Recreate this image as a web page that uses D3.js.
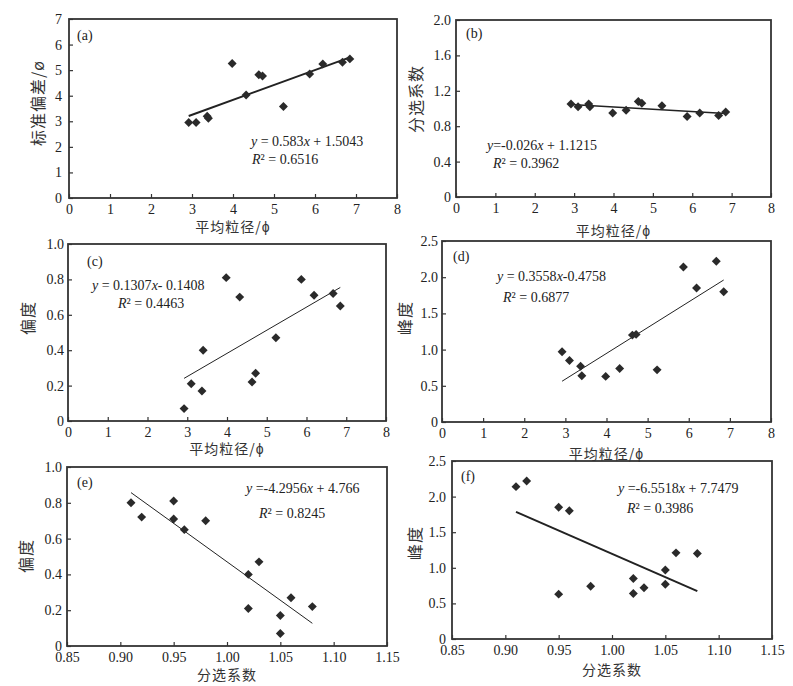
<!DOCTYPE html>
<html>
<head>
<meta charset="utf-8">
<script src="https://cdn.jsdelivr.net/npm/d3@7"></script>
<style>
    body { margin: 0; background: #fff; }
    svg { display: block; }
    .tick text { font-family: "Liberation Serif", "Times New Roman", serif; font-size: 14px; fill: #222; }
    .tick line { stroke: #333; stroke-width: 1.2; }
    .cjk { font-family: "Noto Sans CJK SC", sans-serif; font-size: 14px; fill: #333; }
    .eq { font-family: "Liberation Serif", "Times New Roman", serif; font-size: 14px; fill: #222; }
</style>
</head>
<body>
<svg id="chart" width="793" height="686"></svg>
<script>
// Sample values (13 samples)
let meanSize = [2.92, 3.10, 3.37, 3.40, 3.98, 4.32, 4.63, 4.72, 5.23, 5.87, 6.19, 6.67, 6.85];
let stdDev   = [2.95, 2.95, 3.20, 3.12, 5.26, 4.03, 4.82, 4.77, 3.58, 4.85, 5.24, 5.31, 5.44];
let sorting  = [1.05, 1.02, 1.05, 1.02, 0.95, 0.98, 1.08, 1.06, 1.03, 0.91, 0.95, 0.92, 0.96];
let skewness = [0.07, 0.21, 0.17, 0.40, 0.81, 0.70, 0.22, 0.27, 0.47, 0.80, 0.71, 0.72, 0.65];
let kurtosis = [0.97, 0.85, 0.77, 0.64, 0.63, 0.74, 1.20, 1.21, 0.72, 2.14, 1.85, 2.22, 1.80];

// Fitted lines shown in the figure
let slopes     = [0.583, -0.026, 0.1307, 0.3558, -4.2956, -6.5518];
let intercepts = [1.5043, 1.1215, -0.1408, -0.4758, 4.766, 7.7479];
let eqMid = [" = 0.583", "=-0.026", " = 0.1307", " = 0.3558", " =-4.2956", " =-6.5518"];
let eqEnd = [" + 1.5043", " + 1.1215", "- 0.1408", "-0.4758", " + 4.766", " + 7.7479"];
let rSquared = ["0.6516", "0.3962", "0.4463", "0.6877", "0.8245", "0.3986"];
let panelNames = ["(a)", "(b)", "(c)", "(d)", "(e)", "(f)"];

// Tick values
let sizeTicks = [0, 1, 2, 3, 4, 5, 6, 7, 8];
let sortTicks = [0.85, 0.90, 0.95, 1.00, 1.05, 1.10, 1.15];
let stdTicks = [0, 1, 2, 3, 4, 5, 6, 7];
let sortYTicks = [0, 0.4, 0.8, 1.2, 1.6, 2.0];
let skewTicks = [0, 0.2, 0.4, 0.6, 0.8, 1.0];
let kurtTicks = [0, 0.5, 1.0, 1.5, 2.0, 2.5];

let fmt1 = (d) => (d === 0 ? "0" : d3.format(".1f")(d));
let fmt2 = d3.format(".2f");

// Panel layout (frame box in page pixels)
let panels = [
    { box: [69, 19, 397, 198], xs: meanSize, ys: stdDev, xd: [0, 8], yd: [0, 7],
      xt: sizeTicks, yt: stdTicks, xf: d3.format("d"), yf: d3.format("d"),
      xl: "平均粒径/ϕ", yl: "标准偏差/ø", xlY: 228, ylX: 40, ylY: 103,
      tag: [77, 40], eq: [251, 146], r2: [252, 164], lw: 2, gap: 7 },
    { box: [456, 20, 771, 197], xs: meanSize, ys: sorting, xd: [0, 8], yd: [0, 2],
      xt: sizeTicks, yt: sortYTicks, xf: d3.format("d"), yf: fmt1,
      xl: "平均粒径/ϕ", yl: "分选系数", xlY: 232, ylX: 418, ylY: 99,
      tag: [466, 38], eq: [487, 150], r2: [493, 168], lw: 1.5, gap: 5 },
    { box: [68, 244, 386, 421], xs: meanSize, ys: skewness, xd: [0, 8], yd: [0, 1],
      xt: sizeTicks, yt: skewTicks, xf: d3.format("d"), yf: fmt1,
      xl: "平均粒径/ϕ", yl: "偏度", xlY: 450, ylX: 30, ylY: 318,
      tag: [87, 266], eq: [92, 290], r2: [118, 308], lw: 1, gap: 4 },
    { box: [442, 241, 771, 422], xs: meanSize, ys: kurtosis, xd: [0, 8], yd: [0, 2.5],
      xt: sizeTicks, yt: kurtTicks, xf: d3.format("d"), yf: fmt1,
      xl: "平均粒径/ϕ", yl: "峰度", xlY: 455, ylX: 407, ylY: 318,
      tag: [453, 261], eq: [497, 281], r2: [503, 302], lw: 1, gap: 4 },
    { box: [67, 467, 387, 646], xs: sorting, ys: skewness, xd: [0.85, 1.15], yd: [0, 1],
      xt: sortTicks, yt: skewTicks, xf: fmt2, yf: fmt1,
      xl: "分选系数", yl: "偏度", xlY: 676, ylX: 28, ylY: 556,
      tag: [77, 487], eq: [246, 493], r2: [259, 518], lw: 1, gap: 5 },
    { box: [452, 461, 772, 639], xs: sorting, ys: kurtosis, xd: [0.85, 1.15], yd: [0, 2.5],
      xt: sortTicks, yt: kurtTicks, xf: fmt2, yf: fmt1,
      xl: "分选系数", yl: "峰度", xlY: 671, ylX: 417, ylY: 543,
      tag: [461, 481], eq: [618, 493], r2: [627, 513], lw: 2, gap: 6 },
];

let svg = d3.select("#chart");

panels.forEach(function (p, i) {
    let [x0, y0, x1, y1] = p.box;
    let x = d3.scaleLinear().domain(p.xd).range([x0, x1]);
    let y = d3.scaleLinear().domain(p.yd).range([y1, y0]);
    let g = svg.append("g");

    // Axes with inward ticks
    let xAxis = d3.axisBottom(x).tickValues(p.xt).tickFormat(p.xf)
        .tickSizeInner(-4).tickSizeOuter(0).tickPadding(6);
    let yAxis = d3.axisLeft(y).tickValues(p.yt).tickFormat(p.yf)
        .tickSizeInner(-4).tickSizeOuter(0).tickPadding(p.gap);

    g.append("g").attr("transform", `translate(0,${y1})`).call(xAxis)
        .call((s) => s.select(".domain").remove());
    g.append("g").attr("transform", `translate(${x0},0)`).call(yAxis)
        .call((s) => s.select(".domain").remove());
    g.selectAll(".tick text").attr("fill", null);

    // Frame
    g.append("rect")
        .attr("x", x0).attr("y", y0)
        .attr("width", x1 - x0).attr("height", y1 - y0)
        .attr("fill", "none").attr("stroke", "#333").attr("stroke-width", 1.8);

    // Regression line over the data range
    let ext = d3.extent(p.xs);
    g.append("path")
        .datum(ext)
        .attr("fill", "none")
        .attr("stroke", "#222")
        .attr("stroke-width", p.lw)
        .attr("d", d3.line().x((d) => x(d)).y((d) => y(slopes[i] * d + intercepts[i])));

    // Points as diamonds
    let sym = d3.symbol(d3.symbolSquare, 40);
    g.selectAll(".pt")
        .data(p.xs.map((v, k) => [v, p.ys[k]]))
        .enter()
        .append("path")
        .attr("class", "pt")
        .attr("d", sym)
        .attr("fill", "#2a2a2a")
        .attr("transform", (d) => `translate(${x(d[0])},${y(d[1])}) rotate(45)`);

    // Panel tag
    g.append("text").attr("class", "eq")
        .attr("x", p.tag[0]).attr("y", p.tag[1])
        .text(panelNames[i]);

    // Equation
    let eq = g.append("text").attr("class", "eq").attr("x", p.eq[0]).attr("y", p.eq[1]);
    eq.append("tspan").attr("font-style", "italic").text("y");
    eq.append("tspan").text(eqMid[i]);
    eq.append("tspan").attr("font-style", "italic").text("x");
    eq.append("tspan").text(eqEnd[i]);

    let r2 = g.append("text").attr("class", "eq").attr("x", p.r2[0]).attr("y", p.r2[1]);
    r2.append("tspan").attr("font-style", "italic").text("R");
    r2.append("tspan").text("² = " + rSquared[i]);

    // Axis labels
    g.append("text").attr("class", "cjk")
        .attr("x", (x0 + x1) / 2).attr("y", p.xlY)
        .attr("text-anchor", "middle").attr("dominant-baseline", "middle")
        .style("letter-spacing", "1px")
        .text(p.xl);

    g.append("text").attr("class", "cjk")
        .attr("transform", `translate(${p.ylX},${p.ylY}) rotate(-90)`)
        .attr("text-anchor", "middle").attr("dominant-baseline", "middle")
        .style("font-size", "16px")
        .style("letter-spacing", "1px")
        .text(p.yl);
});
</script>
</body>
</html>
